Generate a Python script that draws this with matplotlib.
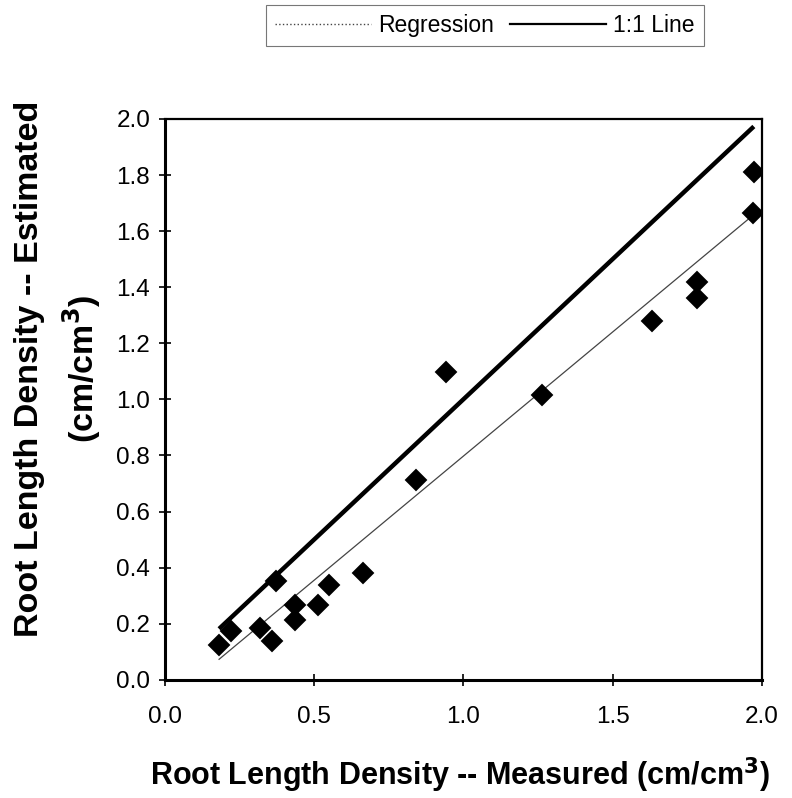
"""
Root length density: estimated vs measured
"""

import numpy as np
import matplotlib.pyplot as plt
from matplotlib.lines import Line2D

plt.rcParams['font.family'] = ['Liberation Sans', 'DejaVu Sans']

# measured / estimated (cm/cm3)
measured = [0.182, 0.221, 0.320, 0.359, 0.374, 0.437, 0.437, 0.513, 0.550,
            0.663, 0.842, 0.943, 1.264, 1.633, 1.784, 1.784, 1.970, 1.973]
estimated = [0.125, 0.176, 0.184, 0.139, 0.354, 0.267, 0.214, 0.267, 0.339,
             0.380, 0.711, 1.098, 1.016, 1.280, 1.420, 1.361, 1.665, 1.811]

x_ticks = [0.0, 0.5, 1.0, 1.5, 2.0]
y_ticks = [0.0, 0.2, 0.4, 0.6, 0.8, 1.0, 1.2, 1.4, 1.6, 1.8, 2.0]

x = np.array(measured)
y = np.array(estimated)

# regression line across the data range
slope, intercept = np.polyfit(x, y, 1)
xr = np.array([x.min(), x.max()])

fig = plt.figure(figsize=(7.92, 7.98), dpi=100)
ax = fig.add_axes([0.208, 0.148, 0.754, 0.703])

ax.plot(xr, xr, color='black', lw=3.2, solid_capstyle='butt', zorder=2)
ax.plot(xr, slope * xr + intercept, color='#444444', lw=0.9, zorder=2)
ax.plot(x, y, linestyle='none', marker='D', ms=10.5, color='black',
        markeredgewidth=1.4, markeredgecolor='black', zorder=3)

ax.set_xlim(0, 2.0)
ax.set_ylim(0, 2.0)
ax.set_xticks(x_ticks)
ax.set_yticks(y_ticks)
ax.set_xticklabels([f'{v:.1f}' for v in x_ticks])
ax.set_yticklabels([f'{v:.1f}' for v in y_ticks])
ax.tick_params(direction='inout', length=9, width=1.2, labelsize=17.5, pad=6)
ax.tick_params(axis='x', pad=14)

for side in ['left', 'bottom']:
    ax.spines[side].set_linewidth(2.2)
for side in ['top', 'right']:
    ax.spines[side].set_linewidth(1.6)

# axis titles
fig.text(0.581, 0.029, 'Root Length Density -- Measured (cm/cm$^\\mathbf{3}$)',
         fontsize=22, fontweight='bold', ha='center', va='center')
fig.text(0.074, 0.538, 'Root Length Density -- Estimated\n(cm/cm$^\\mathbf{3}$)',
         fontsize=24.5, fontweight='bold', ha='center', va='center',
         rotation=90, linespacing=1.45, multialignment='center')

# legend on top
handles = [Line2D([], [], color='#444444', lw=1.0, linestyle=':'),
           Line2D([], [], color='black', lw=1.6)]
leg = fig.legend(handles, ['Regression', '1:1 Line'], loc='center',
                 bbox_to_anchor=(0.612, 0.968), ncol=2, fontsize=16.5,
                 frameon=True, fancybox=False, handlelength=4.2,
                 handletextpad=0.3, columnspacing=0.7, borderpad=0.4)
leg.get_frame().set_edgecolor('#555555')
leg.get_frame().set_linewidth(0.8)

fig.savefig('out.png', dpi=100)
plt.close(fig)
